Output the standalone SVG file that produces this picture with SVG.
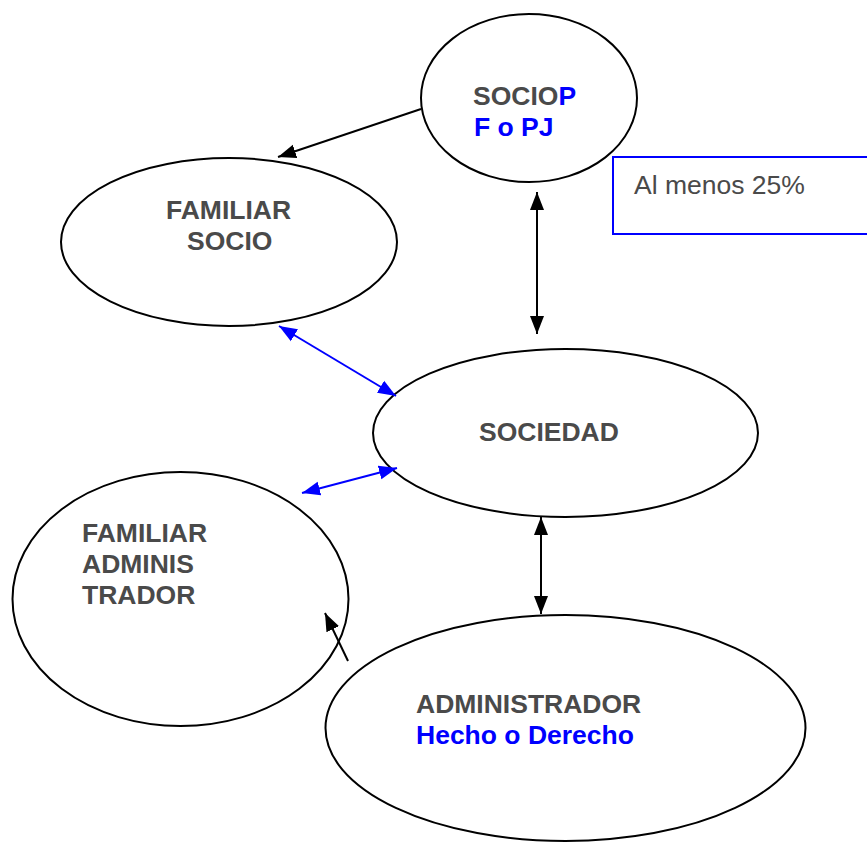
<svg xmlns="http://www.w3.org/2000/svg" width="867" height="843" viewBox="0 0 867 843">
<style>
.node{fill:#fff;stroke:#000;stroke-width:2}
.t{font-family:"Liberation Sans",Arial,sans-serif;font-size:26.5px;font-weight:bold;fill:#4a4a4a}
.b{fill:#0000ff}
.k{stroke:#000;stroke-width:2;fill:none}
.bl{stroke:#0000ff;stroke-width:2;fill:none}
</style>
<defs>
<marker id="ak" markerUnits="userSpaceOnUse" markerWidth="20" markerHeight="16" refX="18" refY="8" orient="auto-start-reverse"><path d="M0,1 L18,8 L0,15 Z" fill="#000"/></marker>
<marker id="ab" markerUnits="userSpaceOnUse" markerWidth="20" markerHeight="16" refX="18" refY="8" orient="auto-start-reverse"><path d="M0,1 L18,8 L0,15 Z" fill="#0000ff"/></marker>
</defs>
<rect width="867" height="843" fill="#fff"/>
<g id="nota">
<rect x="613" y="157" width="260" height="77" fill="#fff" stroke="#0000ff" stroke-width="2"/>
<text x="634" y="194" style="font-family:'Liberation Sans',Arial,sans-serif;font-size:26.5px;fill:#4a4a4a">Al menos 25%</text>
</g>
<g id="socio">
<ellipse class="node" cx="529" cy="98" rx="108" ry="84"/>
<text class="t" x="473" y="105">SOCIO<tspan class="b">P</tspan></text>
<text class="t b" x="474" y="136">F o PJ</text>
</g>
<g id="familiar-socio">
<ellipse class="node" cx="229" cy="242" rx="168" ry="84"/>
<text class="t" x="166" y="219">FAMILIAR</text>
<text class="t" x="187" y="250">SOCIO</text>
</g>
<g id="sociedad">
<ellipse class="node" cx="565.5" cy="433" rx="192.5" ry="84"/>
<text class="t" x="479" y="441">SOCIEDAD</text>
</g>
<g id="familiar-administrador">
<ellipse class="node" cx="180.5" cy="599" rx="168" ry="127"/>
<text class="t" x="82" y="542">FAMILIAR</text>
<text class="t" x="82" y="573">ADMINIS</text>
<text class="t" x="82" y="604">TRADOR</text>
</g>
<g id="administrador">
<ellipse class="node" cx="565.5" cy="728" rx="240" ry="113"/>
<text class="t" x="416" y="713">ADMINISTRADOR</text>
<text class="t b" x="416" y="744">Hecho o Derecho</text>
</g>
<g id="connectors">
<line class="k" x1="421" y1="109" x2="278" y2="157" marker-end="url(#ak)"/>
<line class="k" x1="537" y1="192" x2="537" y2="334" marker-start="url(#ak)" marker-end="url(#ak)"/>
<line class="bl" x1="279" y1="326" x2="396" y2="396" marker-start="url(#ab)" marker-end="url(#ab)"/>
<line class="bl" x1="302" y1="493" x2="397" y2="468" marker-start="url(#ab)" marker-end="url(#ab)"/>
<line class="k" x1="541" y1="517" x2="541" y2="614" marker-start="url(#ak)" marker-end="url(#ak)"/>
<line class="k" x1="348" y1="661" x2="325" y2="613" marker-end="url(#ak)"/>
</g>
</svg>
